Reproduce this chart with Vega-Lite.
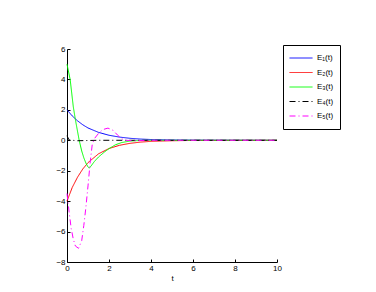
{
  "$schema": "https://vega.github.io/schema/vega-lite/v6.json",
  "width": 210,
  "height": 213,
  "autosize": {"type": "none"},
  "padding": {"left": 67, "top": 49, "right": 99, "bottom": 30},
  "background": "white",
  "config": {
    "font": "Liberation Sans",
    "view": {"stroke": null},
    "axis": {
      "grid": false,
      "domainColor": "black",
      "tickColor": "black",
      "labelColor": "black",
      "titleColor": "black",
      "labelFontSize": 8,
      "titleFontSize": 8,
      "titleFontWeight": "normal",
      "tickSize": -3,
      "domainWidth": 1
    }
  },
  "data": {
    "values": [
      {"t": 0, "v": 2, "s": "E₁(t)"},
      {"t": 0.25, "v": 1.6, "s": "E₁(t)"},
      {"t": 0.5, "v": 1.28, "s": "E₁(t)"},
      {"t": 0.75, "v": 1.02, "s": "E₁(t)"},
      {"t": 1, "v": 0.81, "s": "E₁(t)"},
      {"t": 1.5, "v": 0.52, "s": "E₁(t)"},
      {"t": 2, "v": 0.33, "s": "E₁(t)"},
      {"t": 2.5, "v": 0.21, "s": "E₁(t)"},
      {"t": 3, "v": 0.13, "s": "E₁(t)"},
      {"t": 3.5, "v": 0.08, "s": "E₁(t)"},
      {"t": 4, "v": 0.05, "s": "E₁(t)"},
      {"t": 5, "v": 0.02, "s": "E₁(t)"},
      {"t": 6, "v": 0.01, "s": "E₁(t)"},
      {"t": 10, "v": 0, "s": "E₁(t)"},

      {"t": 0, "v": -4, "s": "E₂(t)"},
      {"t": 0.25, "v": -3.1, "s": "E₂(t)"},
      {"t": 0.5, "v": -2.43, "s": "E₂(t)"},
      {"t": 0.75, "v": -1.89, "s": "E₂(t)"},
      {"t": 1, "v": -1.47, "s": "E₂(t)"},
      {"t": 1.5, "v": -0.89, "s": "E₂(t)"},
      {"t": 2, "v": -0.54, "s": "E₂(t)"},
      {"t": 2.5, "v": -0.33, "s": "E₂(t)"},
      {"t": 3, "v": -0.2, "s": "E₂(t)"},
      {"t": 3.5, "v": -0.12, "s": "E₂(t)"},
      {"t": 4, "v": -0.07, "s": "E₂(t)"},
      {"t": 5, "v": -0.03, "s": "E₂(t)"},
      {"t": 6, "v": -0.01, "s": "E₂(t)"},
      {"t": 10, "v": 0, "s": "E₂(t)"},

      {"t": 0, "v": 5, "s": "E₃(t)"},
      {"t": 0.15, "v": 4.0, "s": "E₃(t)"},
      {"t": 0.3, "v": 2.2, "s": "E₃(t)"},
      {"t": 0.4, "v": 1.35, "s": "E₃(t)"},
      {"t": 0.5, "v": 0.6, "s": "E₃(t)"},
      {"t": 0.58, "v": 0, "s": "E₃(t)"},
      {"t": 0.7, "v": -0.7, "s": "E₃(t)"},
      {"t": 0.8, "v": -1.15, "s": "E₃(t)"},
      {"t": 0.9, "v": -1.5, "s": "E₃(t)"},
      {"t": 1.0, "v": -1.75, "s": "E₃(t)"},
      {"t": 1.06, "v": -1.83, "s": "E₃(t)"},
      {"t": 1.15, "v": -1.68, "s": "E₃(t)"},
      {"t": 1.3, "v": -1.4, "s": "E₃(t)"},
      {"t": 1.5, "v": -1.1, "s": "E₃(t)"},
      {"t": 1.8, "v": -0.75, "s": "E₃(t)"},
      {"t": 2.0, "v": -0.55, "s": "E₃(t)"},
      {"t": 2.3, "v": -0.3, "s": "E₃(t)"},
      {"t": 2.6, "v": -0.15, "s": "E₃(t)"},
      {"t": 3, "v": -0.05, "s": "E₃(t)"},
      {"t": 3.5, "v": -0.01, "s": "E₃(t)"},
      {"t": 4, "v": 0, "s": "E₃(t)"},
      {"t": 10, "v": 0, "s": "E₃(t)"},

      {"t": 0, "v": 0.3, "s": "E₄(t)"},
      {"t": 0.1, "v": 0.02, "s": "E₄(t)"},
      {"t": 0.5, "v": -0.03, "s": "E₄(t)"},
      {"t": 1.5, "v": 0, "s": "E₄(t)"},
      {"t": 10, "v": 0, "s": "E₄(t)"},

      {"t": 0, "v": -3.5, "s": "E₅(t)"},
      {"t": 0.1, "v": -4.7, "s": "E₅(t)"},
      {"t": 0.2, "v": -5.8, "s": "E₅(t)"},
      {"t": 0.3, "v": -6.5, "s": "E₅(t)"},
      {"t": 0.4, "v": -6.95, "s": "E₅(t)"},
      {"t": 0.55, "v": -7.1, "s": "E₅(t)"},
      {"t": 0.7, "v": -6.6, "s": "E₅(t)"},
      {"t": 0.8, "v": -5.6, "s": "E₅(t)"},
      {"t": 0.9, "v": -4.4, "s": "E₅(t)"},
      {"t": 1.0, "v": -3.0, "s": "E₅(t)"},
      {"t": 1.1, "v": -1.5, "s": "E₅(t)"},
      {"t": 1.2, "v": -0.3, "s": "E₅(t)"},
      {"t": 1.3, "v": 0.1, "s": "E₅(t)"},
      {"t": 1.5, "v": 0.45, "s": "E₅(t)"},
      {"t": 1.7, "v": 0.7, "s": "E₅(t)"},
      {"t": 1.95, "v": 0.8, "s": "E₅(t)"},
      {"t": 2.2, "v": 0.65, "s": "E₅(t)"},
      {"t": 2.4, "v": 0.35, "s": "E₅(t)"},
      {"t": 2.6, "v": 0.1, "s": "E₅(t)"},
      {"t": 2.8, "v": 0.0, "s": "E₅(t)"},
      {"t": 3.2, "v": -0.03, "s": "E₅(t)"},
      {"t": 4, "v": 0, "s": "E₅(t)"},
      {"t": 10, "v": 0, "s": "E₅(t)"}
    ]
  },
  "mark": {"type": "line", "strokeWidth": 1},
  "encoding": {
    "x": {
      "field": "t", "type": "quantitative", "title": "t",
      "scale": {"domain": [0, 10], "nice": false},
      "axis": {"values": [0, 2, 4, 6, 8, 10], "labelPadding": 5, "titlePadding": 2, "labelFlush": false}
    },
    "y": {
      "field": "v", "type": "quantitative", "title": null,
      "scale": {"domain": [-8, 6], "nice": false},
      "axis": {"values": [-8, -6, -4, -2, 0, 2, 4, 6], "labelPadding": 5}
    },
    "color": {
      "field": "s", "type": "nominal", "title": null,
      "scale": {"domain": ["E₁(t)", "E₂(t)", "E₃(t)", "E₄(t)", "E₅(t)"], "range": ["#0000ff", "#ff0000", "#00ff00", "#000000", "#ff00ff"]},
      "legend": {
        "orient": "none", "legendX": 216, "legendY": -4,
        "strokeColor": "black", "fillColor": "white", "padding": 6,
        "symbolType": "stroke", "symbolSize": 529, "symbolStrokeWidth": 1,
        "clipHeight": 14,
        "labelFontSize": 8, "labelColor": "black", "rowPadding": 0.5, "labelOffset": 4
      }
    },
    "strokeDash": {
      "field": "s", "type": "nominal", "title": null,
      "scale": {"domain": ["E₁(t)", "E₂(t)", "E₃(t)", "E₄(t)", "E₅(t)"], "range": [[1, 0], [1, 0], [1, 0], [6, 3, 1, 3], [6, 3, 1, 3]]}
    }
  }
}
